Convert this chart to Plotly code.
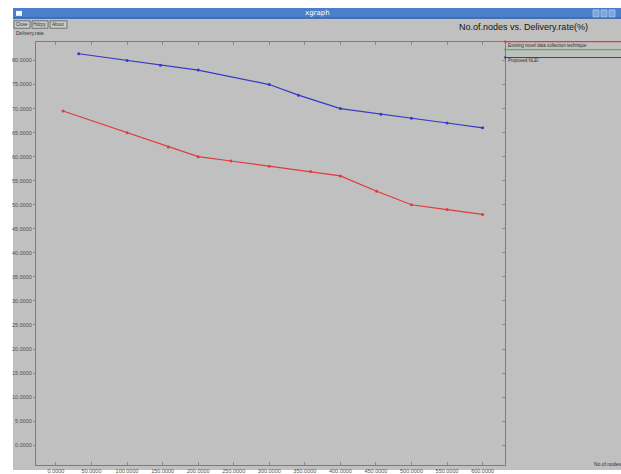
import plotly.graph_objects as go

W, H = 621, 474

# Delivery rate (%) against number of nodes
nodes_existing = [10, 100, 158, 200, 246, 300, 358, 400, 451, 500, 550, 600]
rate_existing = [69.5, 65.0, 62.0, 60.0, 59.1, 58.0, 56.9, 56.0, 52.8, 50.0, 49.0, 48.0]
nodes_proposed = [32, 100, 147, 200, 300, 341, 400, 457, 500, 550, 600]
rate_proposed = [81.4, 80.0, 79.0, 78.0, 75.0, 72.8, 70.0, 68.8, 68.0, 67.0, 66.0]

legend_names = ["Existing novel data collection technique", "", "Proposed NLEI"]
legend_colors = ["#e23a3a", "#3cc04a", "#3838c8"]

x_ticks = list(range(0, 601, 50))
y_ticks = list(range(0, 81, 5))
x_ticktext = ["%.4f" % v for v in x_ticks]
y_ticktext = ["%.4f" % v for v in y_ticks]

title_text = "No.of.nodes vs. Delivery.rate(%)"
x_label = "No.of.nodes"
y_label = "Delivery.rate"
window_title = "xgraph"
buttons = ["Close", "Hdcpy", "About"]

BG = "#c0c0c0"
AXIS = "#7c7c7c"
TICKFONT = dict(family="Liberation Sans, Arial", size=5.5, color="#505050")


def px(x):
    return x / W


def py(y):
    return 1 - y / H


# plot frame in pixels
L, R, T, B = 36, 505, 42, 469
x_range = [-28.1, 631.5]
y_range = [-4.12, 83.92]

fig = go.Figure()

fig.add_trace(go.Scatter(
    x=nodes_existing, y=rate_existing, mode="lines+markers",
    line=dict(color=legend_colors[0], width=1.2),
    marker=dict(size=3, color=legend_colors[0]),
    name=legend_names[0], showlegend=False, hoverinfo="skip"))
fig.add_trace(go.Scatter(
    x=nodes_proposed, y=rate_proposed, mode="lines+markers",
    line=dict(color=legend_colors[2], width=1.2),
    marker=dict(size=3, color=legend_colors[2]),
    name=legend_names[2], showlegend=False, hoverinfo="skip"))
# carrier trace for the right-hand tick axis
fig.add_trace(go.Scatter(x=[None], y=[None], xaxis="x", yaxis="y2",
                         showlegend=False, hoverinfo="skip"))

shapes = []
annotations = []

# window background and chrome
shapes.append(dict(type="rect", xref="paper", yref="paper",
                   x0=px(13), x1=px(W), y0=py(H), y1=py(8),
                   fillcolor=BG, line=dict(width=0), layer="below"))
shapes.append(dict(type="rect", xref="paper", yref="paper",
                   x0=px(13), x1=px(W), y0=py(19), y1=py(8),
                   fillcolor="#4a7fcc", line=dict(width=0)))
shapes.append(dict(type="rect", xref="paper", yref="paper",
                   x0=px(13), x1=px(W), y0=py(19), y1=py(17.5),
                   fillcolor="#3b68aa", line=dict(width=0)))
shapes.append(dict(type="rect", xref="paper", yref="paper",
                   x0=px(16), x1=px(22), y0=py(16), y1=py(11),
                   fillcolor="#f4f6fa", line=dict(width=0)))
for bx in (593, 601, 609):
    shapes.append(dict(type="rect", xref="paper", yref="paper",
                       x0=px(bx), x1=px(bx + 6), y0=py(17), y1=py(10),
                       fillcolor="#7ea6dc", line=dict(color="#c8d8f0", width=0.6)))
annotations.append(dict(text=window_title, xref="paper", yref="paper",
                        x=px(317), y=py(13.5), showarrow=False,
                        xanchor="center", yanchor="middle",
                        font=dict(family="DejaVu Sans", size=7, color="white")))

# buttons
btn_x = [(14, 30), (32, 48), (50, 67)]
for (bx0, bx1), label in zip(btn_x, buttons):
    shapes.append(dict(type="rect", xref="paper", yref="paper",
                       x0=px(bx0), x1=px(bx1), y0=py(28.5), y1=py(21),
                       fillcolor="#cacaca", line=dict(color="#5a5a5a", width=0.8)))
    annotations.append(dict(text=label, xref="paper", yref="paper",
                            x=px((bx0 + bx1) / 2), y=py(24.8), showarrow=False,
                            xanchor="center", yanchor="middle",
                            font=dict(family="Liberation Sans", size=4.5, color="#303030")))

annotations.append(dict(text=y_label, xref="paper", yref="paper",
                        x=px(14), y=py(33.5), showarrow=False,
                        xanchor="left", yanchor="middle",
                        font=dict(family="Liberation Sans", size=5, color="#303030")))
annotations.append(dict(text=x_label, xref="paper", yref="paper",
                        x=px(592), y=py(468), showarrow=False,
                        xanchor="left", yanchor="middle",
                        font=dict(family="Liberation Sans", size=5, color="#303030")))
annotations.append(dict(text=title_text, xref="paper", yref="paper",
                        x=px(523), y=py(27), showarrow=False,
                        xanchor="center", yanchor="middle",
                        font=dict(family="Liberation Sans, Arial", size=9, color="#151515")))

# legend panel at the right of the plot frame
legend_line_y = [42, 50, 58]
legend_text_y = [45.5, None, 61.5]
for name, color, ly, ty in zip(legend_names, legend_colors, legend_line_y, legend_text_y):
    shapes.append(dict(type="line", xref="paper", yref="paper",
                       x0=px(R), x1=px(W), y0=py(ly), y1=py(ly),
                       line=dict(color=color, width=1.1)))
    shapes.append(dict(type="circle", xref="paper", yref="paper",
                       x0=px(R - 1), x1=px(R + 1.5), y0=py(ly + 1.2), y1=py(ly - 1.2),
                       fillcolor=color, line=dict(width=0)))
    if ty is not None and name:
        annotations.append(dict(text=name, xref="paper", yref="paper",
                                x=px(R + 1), y=py(ty), showarrow=False,
                                xanchor="left", yanchor="middle",
                                font=dict(family="Liberation Sans", size=4.5, color="#303030")))

axis_common = dict(showgrid=False, zeroline=False, showline=True,
                   linecolor=AXIS, linewidth=1, tickcolor="#8a8a8a",
                   tickfont=TICKFONT)

fig.update_layout(
    width=W, height=H,
    margin=dict(l=0, r=0, t=0, b=0),
    paper_bgcolor="white",
    plot_bgcolor=BG,
    showlegend=False,
    xaxis=dict(domain=[px(L), px(R)], range=x_range, anchor="y",
               tickvals=x_ticks, ticktext=x_ticktext,
               ticks="inside", ticklen=3, mirror="ticks", **axis_common),
    yaxis=dict(domain=[py(B), py(T)], range=y_range, anchor="x",
               tickvals=y_ticks, ticktext=y_ticktext,
               ticks="outside", ticklen=2, mirror=True, **axis_common),
    yaxis2=dict(overlaying="y", side="right", range=y_range, anchor="x",
                tickvals=y_ticks, showticklabels=False,
                ticks="inside", ticklen=3, showgrid=False, zeroline=False,
                showline=False, tickcolor="#8a8a8a"),
    shapes=shapes,
    annotations=annotations,
)

fig.write_html("out.html")
